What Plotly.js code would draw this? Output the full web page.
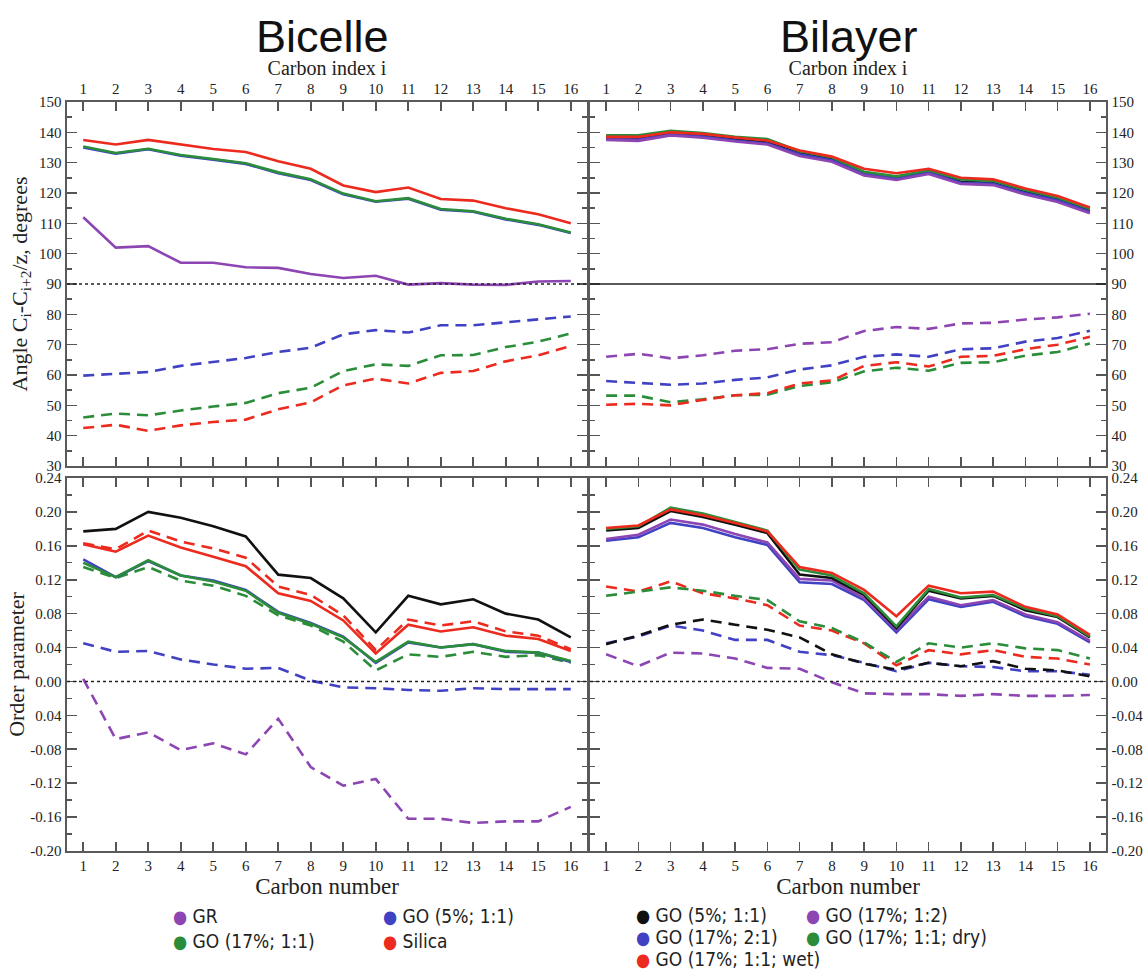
<!DOCTYPE html>
<html><head><meta charset="utf-8">
<script src="https://cdn.plot.ly/plotly-3.0.1.min.js"></script>
<style>html,body{margin:0;padding:0;background:#fff}#chart{width:1144px;height:971px}</style>
</head><body><div id="chart"></div>
<script>
// ---------- data ----------
const carbon = [1,2,3,4,5,6,7,8,9,10,11,12,13,14,15,16];

// Bicelle: angle C_i-C_i+2 / z (degrees)
const bicAngleSilica     = [137.5,136.0,137.5,136.0,134.5,133.5,130.5,128.0,122.5,120.3,121.8,118.0,117.5,115.0,113.0,110.0];
const bicAngleGO5        = [135.0,133.0,134.4,132.3,131.0,129.6,126.5,124.3,119.6,117.1,118.1,114.5,113.8,111.3,109.5,106.8];
const bicAngleGO17       = [135.3,133.2,134.6,132.5,131.2,129.8,126.8,124.5,119.8,117.3,118.3,114.7,114.0,111.5,109.7,107.0];
const bicAngleGR         = [112.0,102.0,102.5,97.0,97.0,95.5,95.3,93.3,92.0,92.7,89.8,90.3,89.8,89.7,90.8,91.0];
const bicAngleGO5Dash    = [59.8,60.5,61.0,63.0,64.2,65.6,67.6,69.0,73.4,74.8,74.0,76.4,76.4,77.4,78.2,79.3];
const bicAngleGO17Dash   = [46.0,47.3,46.7,48.3,49.6,50.8,54.0,55.8,61.3,63.5,63.0,66.5,66.6,69.2,71.0,73.7];
const bicAngleSilicaDash = [42.5,43.6,41.6,43.4,44.5,45.3,48.7,51.0,56.6,58.8,57.2,60.7,61.3,64.5,66.5,69.6];

// Bilayer: angle C_i-C_i+2 / z (degrees)
const bilAngleGO5        = [138.1,137.9,139.6,138.9,137.6,136.6,133.1,131.1,126.6,125.1,127.1,123.7,123.3,120.3,117.9,114.1];
const bilAngleGO17_21    = [137.8,137.6,139.3,138.6,137.3,136.3,132.8,130.8,126.3,124.8,126.8,123.4,123.0,120.0,117.6,113.8];
const bilAngleGO17_12    = [137.5,137.2,139.0,138.2,137.0,136.0,132.2,130.3,125.8,124.3,126.3,123.0,122.6,119.5,117.0,113.3];
const bilAngleGO17dry    = [139.0,139.0,140.5,139.8,138.5,137.8,133.8,131.8,127.0,125.5,127.5,124.5,124.0,121.0,118.5,114.8];
const bilAngleGO17wet    = [138.5,138.5,140.0,139.5,138.3,137.3,134.0,132.0,128.0,126.5,128.0,125.0,124.5,121.5,119.0,115.2];
const bilAngleGO17_12Dash= [66.0,67.0,65.5,66.5,68.0,68.5,70.3,70.8,74.5,75.8,75.2,77.0,77.2,78.3,79.0,80.2];
const bilAngleGO17_21Dash= [58.0,57.5,56.8,57.2,58.4,59.2,61.8,63.2,66.0,66.8,66.0,68.5,68.8,71.0,72.2,74.6];
const bilAngleGO17wetDash= [50.2,50.5,50.0,51.8,53.3,54.0,57.2,58.2,63.0,64.2,62.8,66.0,66.3,68.5,70.0,72.6];
const bilAngleGO17dryDash= [53.2,53.2,51.0,52.0,53.3,53.5,56.4,57.6,61.2,62.4,61.4,64.0,64.2,66.4,67.6,70.4];

// Bicelle: order parameter
const bicOrderBlack      = [0.177,0.180,0.200,0.193,0.183,0.171,0.126,0.122,0.098,0.058,0.101,0.091,0.097,0.080,0.073,0.052];
const bicOrderSilica     = [0.162,0.153,0.172,0.158,0.147,0.136,0.104,0.095,0.072,0.033,0.067,0.059,0.064,0.054,0.050,0.036];
const bicOrderSilicaDash = [0.163,0.156,0.178,0.165,0.157,0.146,0.112,0.102,0.078,0.037,0.073,0.066,0.071,0.059,0.054,0.038];
const bicOrderGO5        = [0.144,0.123,0.142,0.125,0.119,0.108,0.082,0.069,0.053,0.022,0.046,0.040,0.044,0.035,0.034,0.023];
const bicOrderGO17       = [0.140,0.123,0.143,0.125,0.118,0.107,0.081,0.068,0.052,0.023,0.047,0.040,0.044,0.036,0.034,0.024];
const bicOrderGO17Dash   = [0.135,0.122,0.135,0.119,0.113,0.101,0.078,0.066,0.047,0.013,0.032,0.029,0.035,0.029,0.031,0.022];
const bicOrderGO5Dash    = [0.045,0.035,0.036,0.026,0.020,0.015,0.016,0.001,-0.007,-0.008,-0.010,-0.011,-0.008,-0.009,-0.009,-0.009];
const bicOrderGRDash     = [0.003,-0.068,-0.060,-0.081,-0.073,-0.086,-0.044,-0.101,-0.123,-0.115,-0.162,-0.162,-0.167,-0.165,-0.165,-0.148];

// Bilayer: order parameter
const bilOrderGO17_21    = [0.166,0.170,0.187,0.181,0.170,0.161,0.117,0.115,0.096,0.058,0.097,0.088,0.094,0.077,0.068,0.046];
const bilOrderGO17_12    = [0.168,0.173,0.191,0.185,0.174,0.164,0.121,0.119,0.098,0.061,0.100,0.090,0.096,0.079,0.070,0.048];
const bilOrderGO5        = [0.178,0.181,0.201,0.194,0.185,0.175,0.126,0.122,0.102,0.063,0.107,0.098,0.101,0.084,0.076,0.052];
const bilOrderGO17dry    = [0.180,0.183,0.205,0.198,0.188,0.178,0.132,0.125,0.104,0.065,0.109,0.099,0.102,0.086,0.077,0.053];
const bilOrderGO17wet    = [0.181,0.184,0.203,0.196,0.187,0.177,0.135,0.128,0.108,0.077,0.113,0.104,0.106,0.088,0.079,0.055];
const bilOrderGO17wetDash= [0.112,0.106,0.118,0.104,0.098,0.090,0.066,0.060,0.045,0.019,0.037,0.032,0.037,0.029,0.027,0.020];
const bilOrderGO17dryDash= [0.101,0.106,0.111,0.107,0.101,0.096,0.071,0.063,0.046,0.023,0.045,0.040,0.045,0.039,0.037,0.027];
const bilOrderGO5Dash    = [0.044,0.054,0.067,0.073,0.067,0.061,0.052,0.032,0.021,0.014,0.022,0.018,0.024,0.015,0.013,0.006];
const bilOrderGO17_21Dash= [0.045,0.053,0.066,0.060,0.049,0.049,0.035,0.031,0.022,0.012,0.022,0.018,0.017,0.012,0.012,0.008];
const bilOrderGO17_12Dash= [0.032,0.018,0.034,0.033,0.027,0.016,0.015,-0.001,-0.014,-0.015,-0.015,-0.017,-0.015,-0.017,-0.017,-0.016];

// reference lines
const angleRef = 90;
const orderRef = 0;

// tick labels
const angleTickVals = [30,40,50,60,70,80,90,100,110,120,130,140,150];
const angleTickText = ['30','40','50','60','70','80','90','100','110','120','130','140','150'];
const orderTickVals = [-0.20,-0.16,-0.12,-0.08,-0.04,0,0.04,0.08,0.12,0.16,0.20,0.24];
const orderTickTextLeft  = ['-0.20','-0.16','-0.12','-0.08','0.04','0.00','0.04','0.08','0.12','0.16','0.20','0.24'];
const orderTickTextRight = ['-0.20','-0.16','-0.12','-0.08','-0.04','0.00','0.04','0.08','0.12','0.16','0.20','0.24'];

// legends
const legendBicelleLabels = ['GR','GO (5%; 1:1)','GO (17%; 1:1)','Silica'];
const legendBicelleColors = ['purple','blue','green','red'];
const legendBilayerLabels = ['GO (5%; 1:1)','GO (17%; 1:2)','GO (17%; 2:1)','GO (17%; 1:1; dry)','GO (17%; 1:1; wet)'];
const legendBilayerColors = ['black','purple','blue','green','red'];

// ---------- styling ----------
const C = {red:'#ec2a1e', green:'#2b8d3a', blue:'#4141c4', purple:'#8c45b2', black:'#111111'};
const DASH = '11px,7px';
const W = 2.6;

function ln(y, color, dashed, xa, ya){
  return {x: carbon, y: y, xaxis: xa, yaxis: ya, type:'scatter', mode:'lines',
    line:{color: C[color], width: W, dash: dashed ? DASH : 'solid'},
    showlegend:false, hoverinfo:'skip'};
}

const data = [
  // top-left (Bicelle angles)
  ln(bicAngleSilicaDash,'red',true,'x','y'),
  ln(bicAngleGO17Dash,'green',true,'x','y'),
  ln(bicAngleGO5Dash,'blue',true,'x','y'),
  ln(bicAngleGR,'purple',false,'x','y'),
  ln(bicAngleGO5,'blue',false,'x','y'),
  ln(bicAngleGO17,'green',false,'x','y'),
  ln(bicAngleSilica,'red',false,'x','y'),
  // bottom-left (Bicelle order)
  ln(bicOrderGRDash,'purple',true,'x2','y2'),
  ln(bicOrderGO5Dash,'blue',true,'x2','y2'),
  ln(bicOrderGO17Dash,'green',true,'x2','y2'),
  ln(bicOrderGO5,'blue',false,'x2','y2'),
  ln(bicOrderGO17,'green',false,'x2','y2'),
  ln(bicOrderSilicaDash,'red',true,'x2','y2'),
  ln(bicOrderSilica,'red',false,'x2','y2'),
  ln(bicOrderBlack,'black',false,'x2','y2'),
  // top-right (Bilayer angles)
  ln(bilAngleGO17dryDash,'green',true,'x3','y3'),
  ln(bilAngleGO17wetDash,'red',true,'x3','y3'),
  ln(bilAngleGO17_21Dash,'blue',true,'x3','y3'),
  ln(bilAngleGO17_12Dash,'purple',true,'x3','y3'),
  ln(bilAngleGO5,'black',false,'x3','y3'),
  ln(bilAngleGO17_21,'blue',false,'x3','y3'),
  ln(bilAngleGO17_12,'purple',false,'x3','y3'),
  ln(bilAngleGO17dry,'green',false,'x3','y3'),
  ln(bilAngleGO17wet,'red',false,'x3','y3'),
  // bottom-right (Bilayer order)
  ln(bilOrderGO17_12Dash,'purple',true,'x4','y4'),
  ln(bilOrderGO17_21Dash,'blue',true,'x4','y4'),
  ln(bilOrderGO5Dash,'black',true,'x4','y4'),
  ln(bilOrderGO17wetDash,'red',true,'x4','y4'),
  ln(bilOrderGO17dryDash,'green',true,'x4','y4'),
  ln(bilOrderGO17_21,'blue',false,'x4','y4'),
  ln(bilOrderGO17_12,'purple',false,'x4','y4'),
  ln(bilOrderGO5,'black',false,'x4','y4'),
  ln(bilOrderGO17dry,'green',false,'x4','y4'),
  ln(bilOrderGO17wet,'red',false,'x4','y4')
];

// ---------- layout ----------
const FW = 1144, FH = 971;
const px = v => v / FW, py = v => 1 - v / FH;
const leftX = [px(67), px(587)], rightX = [px(590), px(1106)];
const topY = [py(466), py(102)], botY = [py(851), py(478)];

const SERIF = 'Liberation Serif, Times New Roman, serif';
const frame = {showline:true, linewidth:2.4, linecolor:'#5a5a5a', mirror:'allticks', ticks:'inside',
  tickcolor:'#555', tickwidth:1.6, showgrid:false, zeroline:false, fixedrange:true,
  tickfont:{family:SERIF, size:15, color:'#222'}};

function xAxis(domain, anchor, side, title){
  return Object.assign({}, frame, {domain, anchor, side, range:[0.5,16.5],
    tickmode:'array', tickvals: carbon, ticktext: carbon.map(String), ticklen:9,
    title:{text:title, font:{family:SERIF, size: side==='top'?20:23, color:'#222'}, standoff: side==='top'?0:4}});
}
function yAxis(domain, anchor, side, vals, text, range, minorStep, title, standoff){
  return Object.assign({}, frame, {domain, anchor, side, range, tickmode:'array', tickvals: vals, ticktext: text,
    ticklen:10, minor:{dtick:minorStep, tick0:range[0], ticks:'inside', ticklen:5, tickcolor:'#555', tickwidth:1.4},
    title: title ? {text:title, font:{family:SERIF, size:22, color:'#222'}, standoff} : {text:''}});
}

const legendFont = 'Liberation Sans Narrow, DejaVu Sans Condensed, Liberation Sans, sans-serif';
function legendAnn(label, color, xPix, yPix){
  return {xref:'paper', yref:'paper', x: px(xPix), y: py(yPix), xanchor:'left', yanchor:'middle', showarrow:false,
    text:'<span style="color:'+C[color]+';font-size:18px">●</span> '+label,
    font:{family:legendFont, size:19, color:'#222'}};
}

const annotations = [
  {xref:'paper', yref:'paper', x:px(322), y:py(37), xanchor:'center', yanchor:'middle', showarrow:false,
   text:'Bicelle', font:{family:'Liberation Sans, Arial, sans-serif', size:45, color:'#111'}},
  {xref:'paper', yref:'paper', x:px(849), y:py(37), xanchor:'center', yanchor:'middle', showarrow:false,
   text:'Bilayer', font:{family:'Liberation Sans, Arial, sans-serif', size:45, color:'#111'}}
];
const bicPos = [[171,916],[381,916],[171,941],[381,941]];
legendBicelleLabels.forEach((l,i)=>annotations.push(legendAnn(l, legendBicelleColors[i], bicPos[i][0], bicPos[i][1])));
const bilPos = [[634,915],[804,915],[634,937],[804,937],[634,959]];
legendBilayerLabels.forEach((l,i)=>annotations.push(legendAnn(l, legendBilayerColors[i], bilPos[i][0], bilPos[i][1])));

const refLine = (xa, ya, yv, dash) => ({type:'line', xref: xa+' domain', x0:0, x1:1, yref: ya, y0:yv, y1:yv,
  line:{color:'#222', width:1.4, dash}});

const layout = {
  width: FW, height: FH, margin:{l:0,r:0,t:0,b:0}, paper_bgcolor:'#fff', plot_bgcolor:'#fff',
  showlegend:false, font:{family:SERIF, color:'#222'},
  xaxis:  xAxis(leftX,'y','top','Carbon index i'),
  yaxis:  yAxis(topY,'x','left',angleTickVals,angleTickText,[30,150],5,'Angle C<sub>i</sub>-C<sub>i+2</sub>/z, degrees',6),
  xaxis2: xAxis(leftX,'y2','bottom','Carbon number'),
  yaxis2: yAxis(botY,'x2','left',orderTickVals,orderTickTextLeft,[-0.20,0.24],0.02,'Order parameter',0),
  xaxis3: xAxis(rightX,'y3','top','Carbon index i'),
  yaxis3: yAxis(topY,'x3','right',angleTickVals,angleTickText,[30,150],5,null,0),
  xaxis4: xAxis(rightX,'y4','bottom','Carbon number'),
  yaxis4: yAxis(botY,'x4','right',orderTickVals,orderTickTextRight,[-0.20,0.24],0.02,null,0),
  shapes: [
    refLine('x','y',angleRef,'dot'),
    refLine('x3','y3',angleRef,'solid'),
    refLine('x2','y2',orderRef,'dot'),
    refLine('x4','y4',orderRef,'dot')
  ],
  annotations
};

Plotly.newPlot('chart', data, layout, {displayModeBar:false, staticPlot:true});
</script>
</body></html>
